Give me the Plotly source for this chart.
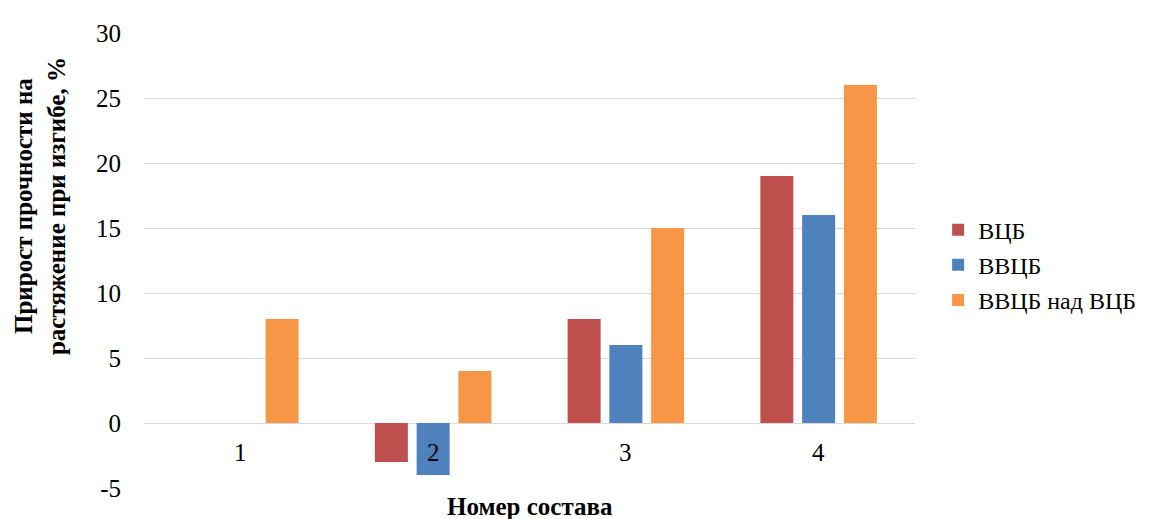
import plotly.graph_objects as go

categories = ["1", "2", "3", "4"]
vcb = [0, -3, 8, 19]
vvcb = [0, -4, 6, 16]
vvcb_over_vcb = [8, 4, 15, 26]
series_names = ["ВЦБ", "ВВЦБ", "ВВЦБ над ВЦБ"]
colors = ["#C0504D", "#4F81BD", "#F79646"]
y_ticks = [-5, 0, 5, 10, 15, 20, 25, 30]
y_tick_text = ["-5", "0", "5", "10", "15", "20", "25", "30"]

FONT = "Liberation Serif"
FS = 25

fig = go.Figure()
for i, (name, vals) in enumerate(zip(series_names, [vcb, vvcb, vvcb_over_vcb])):
    fig.add_trace(go.Bar(
        x=categories, y=vals, name=name, marker_color=colors[i],
        marker_line_width=0, legendgroup=name,
    ))

for idx, c in enumerate(categories):
    fig.add_annotation(x=idx, y=0, xref="x", yref="y", text=c, showarrow=False,
                       yanchor="top", yshift=-14, font=dict(family=FONT, size=FS, color="black"))

fig.add_annotation(x=-0.1347, y=0.62, xref="paper", yref="paper",
                   text="<b>Прирост прочности на<br>растяжение при изгибе, %</b>",
                   textangle=-90, showarrow=False, xanchor="center", yanchor="middle",
                   font=dict(family=FONT, size=FS, color="black"))

fig.add_annotation(x=0.5, y=-0.041, xref="paper", yref="paper",
                   text="<b>Номер состава</b>", showarrow=False,
                   xanchor="center", yanchor="middle",
                   font=dict(family=FONT, size=FS, color="black"))

fig.update_layout(
    width=1145, height=511,
    margin=dict(l=136, r=237, t=17, b=31),
    paper_bgcolor="white", plot_bgcolor="white",
    barmode="group", bargap=0.35, bargroupgap=0.21,
    font=dict(family=FONT, size=FS, color="black"),
    showlegend=True,
    legend=dict(x=1.03, xanchor="left", y=0.49, yanchor="middle",
                font=dict(family=FONT, size=24, color="black"),
                tracegroupgap=1, itemwidth=30, bgcolor="rgba(0,0,0,0)"),
    xaxis=dict(type="category", showticklabels=False, showgrid=False, zeroline=False,
               showline=False),
    yaxis=dict(range=[-5, 30], tickvals=y_ticks, ticktext=y_tick_text, showgrid=True,
               gridcolor="#D9D9D9", gridwidth=1, zeroline=True, zerolinecolor="#D9D9D9",
               zerolinewidth=1, showline=False, ticks="", ticklabelstandoff=22,
               tickfont=dict(family=FONT, size=FS, color="black")),
)

fig.write_html("out.html")
